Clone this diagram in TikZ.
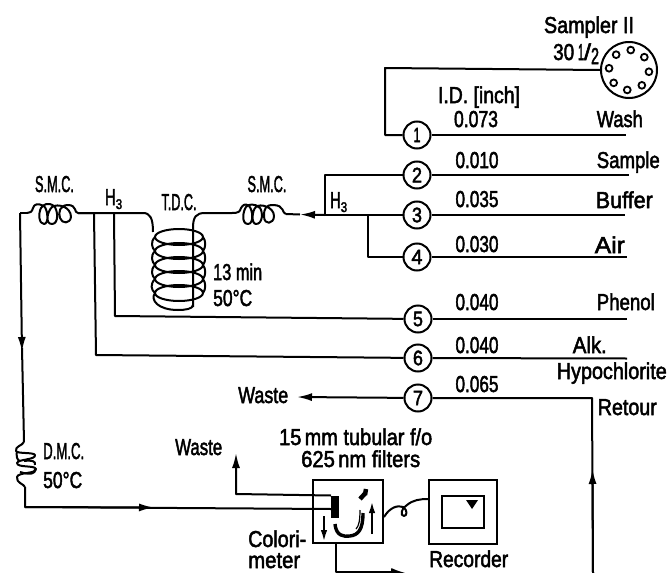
\documentclass[tikz,border=0pt]{standalone}
\usepackage{graphicx}
\usepackage{fontspec}
\setmainfont[FakeBold=2.4]{Liberation Sans}
\usetikzlibrary{arrows.meta}
\newcommand{\tw}[2]{\resizebox{#1pt}{\height}{#2}}
\newcommand{\hthree}{\resizebox{10.5pt}{\height}{H}\raisebox{-4pt}{\fontsize{14}{14}\selectfont\resizebox{6.5pt}{\height}{3}}}
\tikzset{
 wire/.style={line width=2pt,line join=round},
 pump/.style={circle,draw,line width=2pt,minimum size=27pt,inner sep=0pt,fill=white,font=\fontsize{21}{21}\selectfont},
 lbl/.style={inner sep=0pt,font=\fontsize{23}{24}\selectfont},
 flow/.style={-{Latex[length=15pt,width=8pt]}},
}
\begin{document}
\begin{tikzpicture}[x=1pt,y=-1pt]
\useasboundingbox (0,0) rectangle (670,573);
% pumps
\node[pump] (p1) at (417,135) {\tw{7}{1}};
\node[pump] (p2) at (417,175) {\tw{10}{2}};
\node[pump] (p3) at (417,215) {\tw{10}{3}};
\node[pump] (p4) at (417,257) {\tw{11}{4}};
\node[pump] (p5) at (418,319) {\tw{10}{5}};
\node[pump] (p6) at (418,358) {\tw{10}{6}};
\node[pump] (p7) at (418,398) {\tw{10}{7}};
% sampler
\node[circle,draw,line width=2pt,minimum size=56pt,inner sep=0pt] (samp) at (629,70) {};
\foreach \a in {0,45,90,135,180,225,270,315}
  \draw[line width=1.8pt,fill=white] (629,70)++(\a+5:20) circle (3.4);
% right ends
\coordinate (e1) at (626,135);
\coordinate (e2) at (629,175);
\coordinate (e3) at (625,215);
\coordinate (e4) at (627,257);
\coordinate (e5) at (627,319);
\coordinate (e6) at (627,358.5);
\draw[wire] (p1) -- (e1);
\draw[wire] (p2) -- (e2);
\draw[wire] (p3) -- (e3);
\draw[wire] (p4) -- (e4);
\draw[wire] (p5) -- (e5);
\draw[wire] (p6) -- (e6);
% sampler loop
\draw[wire] (samp.west) -- (385,68) -- (385,135) -- (p1);
% H3 right
\coordinate (h3a) at (325,175);
\coordinate (h3b) at (325,215);
\coordinate (h3c) at (368,215);
\coordinate (smc2r) at (286,214);
\draw[wire] (p2) -- (h3a) -- (h3b);
\draw[wire] (p3) -- (h3b);
\draw[wire,flow] (h3b) -- (300,214.5);
\draw[wire] (300,214.5) -- (smc2r);
\draw[wire] (h3c) -- (368,257) -- (p4);
% S.M.C. 2
\draw[wire] (286,214) .. controls (282,214) and (285,205) .. (273,205)
 .. controls (266,205) and (264,208) .. (264,216) .. controls (264,226) and (274,224) .. (274,216)
 .. controls (274,207) and (260,203) .. (256,207) .. controls (252,210) and (251,224) .. (256,224) .. controls (263,224) and (263,212) .. (260,208)
 .. controls (255,203) and (248,204) .. (246,207)
 .. controls (243,211) and (241,224) .. (248,224) .. controls (254,224) and (253,210) .. (249,206)
 .. controls (245,203) and (243,205) .. (241,208) .. controls (240,212) and (238,213) .. (232,213);
\draw[wire] (232,213) -- (205,213) .. controls (196,213) and (193,217) .. (193,228) -- (193,307);
% T.D.C.
\draw[wire] (27,213) -- (20,213);
\draw[wire] (78,213) -- (143,213) .. controls (150,213) and (153,218) .. (153,232);
\foreach \yy in {237,251,265,279,293}
  \draw[wire] (179,\yy) ellipse (24 and 8);
\draw[wire] (155,237) .. controls (150,242) and (152,248) .. (155,251) .. controls (150,256) and (152,262) .. (155,265) .. controls (150,270) and (152,276) .. (155,279) .. controls (150,284) and (151,290) .. (155,293) .. controls (150,300) and (158,310) .. (178,310) .. controls (185,310) and (193,309) .. (193,305);
\foreach \yy in {237,251,265,279}
  \draw[wire] (203,\yy) .. controls (206,\yy+4) and (206,\yy+10) .. (203,\yy+14);
% S.M.C. 1
\draw[wire] (93,213) -- (78,213) .. controls (74,213) and (77,205) .. (68,205)
 .. controls (60,205) and (58,212) .. (60,218) .. controls (62,224) and (70,224) .. (71,217) .. controls (71,207) and (58,203) .. (52,207)
 .. controls (47,212) and (45,224) .. (52,224) .. controls (59,224) and (58,210) .. (54,206)
 .. controls (48,202) and (44,204) .. (41,208) .. controls (38,214) and (39,224) .. (44,224) .. controls (49,224) and (48,210) .. (44,206)
 .. controls (38,203) and (34,204) .. (33,208) .. controls (32,212) and (30,213) .. (27,213);
% H3 left branches
\draw[wire] (p5) -- (115,316) -- (114,214);
\draw[wire] (p6) -- (96,355) -- (94,214);
% down to DMC
\draw[wire,flow] (20,213) -- (22,352);
\draw[wire] (22,348) -- (24,442);
\coordinate (dmcb) at (25,487);
\draw[wire] (24,442) .. controls (22,446) and (15,446) .. (16,451) .. controls (17,454) and (34,452) .. (35,455) .. controls (36,460) and (18,459) .. (17,463) .. controls (17,468) and (35,465) .. (36,469) .. controls (36,474) and (18,472) .. (17,477) .. controls (16,483) and (24,484) .. (25,487);
\draw[wire] (17,451) .. controls (16,455) and (17,461) .. (20,461);
\draw[wire] (24,461) .. controls (32,460) and (36,461) .. (35,465);
\draw[wire] (20,472) .. controls (30,475) and (36,474) .. (35,469);
% colorimeter
\node[draw,line width=2pt,minimum width=70pt,minimum height=63pt,inner sep=0pt] (col) at (348,511.5) {};
\node[draw,line width=2pt,minimum width=68pt,minimum height=64pt,inner sep=0pt] (rec) at (463,512) {};
\node[draw,line width=2pt,minimum width=42pt,minimum height=32pt,inner sep=0pt] (scr) at (463,512) {};
\fill (466,500) -- (478,500) -- (472,509) -- cycle;
\node[fill=black,minimum width=8pt,minimum height=22pt,inner sep=0pt] (blk) at (335,507) {};
\coordinate (wst) at (236,453);
\draw[wire] (dmcb) -- (25,507) -- (331,509);
\draw[wire,flow] (25,507) -- (154,507.5);
\draw[wire,flow] (331,495.5) -- (236,494) -- (wst);
% U tube
\draw[line width=3.4pt] (335,524) .. controls (336,536) and (344,537) .. (350,536) .. controls (358,535) and (363,530) .. (363,513);
\draw[line width=1.2pt] (356,529) .. controls (359,526) and (360,520) .. (360,510);
\draw[line width=4.5pt] (366,489) -- (365,495);
\draw[line width=4.5pt] (365.5,493) -- (360,499);
% inner arrows
\draw[line width=1.6pt,-{Latex[length=11pt,width=6.5pt]}] (372,534) -- (372,502);
\draw[line width=1.6pt,-{Latex[length=11pt,width=6.5pt]}] (324,516) -- (324,541);
% recorder signal
\draw[wire] (col.east |- 0,517) .. controls (390,507) and (398,505) .. (403,507) .. controls (408,510) and (407,516) .. (404,516) .. controls (400,516) and (401,508) .. (407,505) .. controls (413,500) and (420,499) .. (rec.west |- 0,499);
% bottom return
\coordinate (bb) at (336,572);
\draw[wire] (col.south -| bb) -- (bb) -- (392,572);
\draw[wire,flow] (392,572) -- (406,573);
% retour
\coordinate (rr) at (592,398);
\coordinate (rb) at (593,573);
\draw[wire] (rb) -- (rr) -- (p7);
\draw[wire,flow] (rb) -- (592.5,469);
\coordinate (wl) at (297,397);
\draw[wire,flow] (p7) -- (wl);
% labels
\node[lbl,anchor=base] (t1) at (589,33) {\tw{90}{Sampler II}};
\node[lbl,anchor=base west] (t2) at (553,60) {\tw{21}{30}\,\tw{6}{1}\tw{7}{/}\raisebox{-4pt}{\tw{8}{2}}};
\node[lbl,anchor=base] (t3) at (479,103) {\tw{82}{I.D. [inch]}};
\node[lbl,anchor=base] (v1) at (476,127) {\tw{44}{0.073}};
\node[lbl,anchor=base] (v2) at (477,168) {\tw{43}{0.010}};
\node[lbl,anchor=base] (v3) at (477,207) {\tw{43}{0.035}};
\node[lbl,anchor=base] (v4) at (477,252) {\tw{43}{0.030}};
\node[lbl,anchor=base] (v5) at (477,310) {\tw{43}{0.040}};
\node[lbl,anchor=base] (v6) at (477,353) {\tw{43}{0.040}};
\node[lbl,anchor=base] (v7) at (477,392) {\tw{43}{0.065}};
\node[lbl,anchor=base east] (n1) at (643,127) {\tw{46}{Wash}};
\node[lbl,anchor=base east] (n2) at (660,168) {\tw{63}{Sample}};
\node[lbl,anchor=base east] (n3) at (653,208) {\tw{57}{Buffer}};
\node[lbl,anchor=base east] (n4) at (625,253) {\tw{30}{Air}};
\node[lbl,anchor=base east] (n5) at (655,310) {\tw{58}{Phenol}};
\node[lbl,anchor=base east] (n6) at (607,353) {\tw{34}{Alk.}};
\node[lbl,anchor=base east] (n7) at (667,379) {\tw{110}{Hypochlorite}};
\node[lbl,anchor=base east] (n8) at (657,415) {\tw{59}{Retour}};
\node[lbl,anchor=base] (s1) at (54.5,192) {\tw{39}{S.M.C.}};
\node[lbl,anchor=base] (s2) at (267,192) {\tw{39}{S.M.C.}};
\node[lbl,anchor=base] (t4) at (179,210) {\tw{35}{T.D.C.}};
\node[lbl,anchor=base west] (h1) at (105,205) {\hthree};
\node[lbl,anchor=base west] (h2) at (330,208) {\hthree};
\node[lbl,anchor=base west] (m1) at (213,280) {\tw{49}{13 min}};
\node[lbl,anchor=base west] (m2) at (213,306) {\tw{39}{50°C}};
\node[lbl,anchor=base west] (d1) at (43,459) {\tw{41}{D.M.C.}};
\node[lbl,anchor=base west] (d2) at (43,488) {\tw{39}{50°C}};
\node[lbl,anchor=base west] (w1) at (238,403) {\tw{50}{Waste}};
\node[lbl,anchor=base west] (w2) at (175,455) {\tw{47}{Waste}};
\node[lbl,anchor=base west] (f1) at (279,445) {\tw{153}{15\,mm tubular f/o}};
\node[lbl,anchor=base west] (f2) at (301,467) {\tw{119}{625\,nm filters}};
\node[lbl,anchor=base west] (c1) at (248,547) {\tw{58}{Colori-}};
\node[lbl,anchor=base west] (c2) at (248,568) {\tw{52}{meter}};
\node[lbl,anchor=base west] (r1) at (429,567) {\tw{79}{Recorder}};
\end{tikzpicture}
\end{document}
